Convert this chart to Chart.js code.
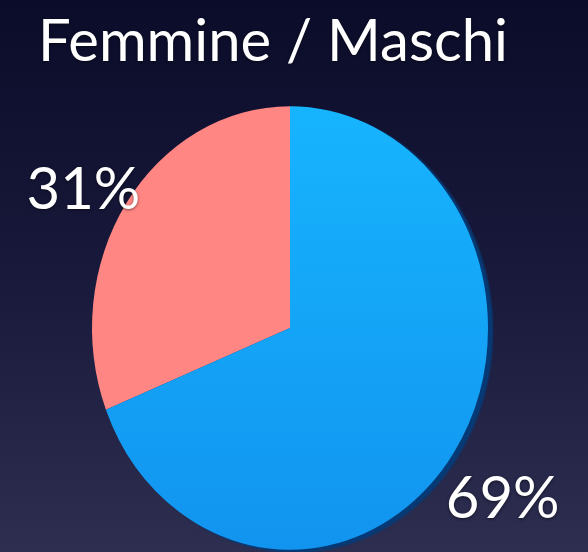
<!DOCTYPE html>
<html>
<head>
<meta charset="utf-8">
<script src="https://cdn.jsdelivr.net/npm/chart.js@4.4.1/dist/chart.umd.min.js"></script>
<style>
  html, body { margin: 0; padding: 0; }
  body {
    width: 588px; height: 552px; overflow: hidden;
    background: linear-gradient(180deg, #0b0c29 0%, #1a1b3d 55%, #2d2e50 100%);
  }
  #wrap { position: relative; width: 588px; height: 552px; }
</style>
</head>
<body>
<div id="wrap"><canvas id="chart1"></canvas></div>
<script>
const chartTitle = 'Femmine / Maschi';
const labels = ['Femmine', 'Maschi'];
const values = [31, 69];
const valueLabels = ['31%', '69%'];

const total = values.reduce((s, v) => s + v, 0);
// salmon slice ends at 12 o'clock, blue goes clockwise from there
const startAngle = values[1] / total * 360;

// pie is drawn a bit taller than wide, like the tilted original
const tiltPlugin = {
  id: 'tilt',
  beforeDatasetsDraw(chart, args, opts) {
    const arc = chart.getDatasetMeta(0).data[0];
    const ctx = chart.ctx;
    ctx.save();
    ctx.translate(arc.x, arc.y);
    ctx.scale(1, opts.scaleY);
    ctx.translate(-arc.x, -arc.y);
    ctx.shadowColor = opts.shadowColor;
    ctx.shadowOffsetX = opts.shadowX;
    ctx.shadowOffsetY = opts.shadowY;
    ctx.shadowBlur = opts.shadowBlur;
  },
  afterDatasetsDraw(chart) {
    chart.ctx.restore();
  }
};

// title and percentage labels
const textPlugin = {
  id: 'texts',
  afterDraw(chart, args, opts) {
    const ctx = chart.ctx;
    const scaleY = chart.options.plugins.tilt.scaleY;
    ctx.save();
    ctx.fillStyle = '#ffffff';
    ctx.font = opts.font;
    ctx.textAlign = 'center';
    ctx.textBaseline = 'middle';
    ctx.shadowColor = 'rgba(0,0,0,0.5)';
    ctx.shadowBlur = 3;
    ctx.shadowOffsetY = 1;
    ctx.fillText(chartTitle, opts.titleX, opts.titleY);

    chart.getDatasetMeta(0).data.forEach((arc, i) => {
      const mid = (arc.startAngle + arc.endAngle) / 2;
      const r = arc.outerRadius + opts.offsets[i];
      const x = arc.x + Math.cos(mid) * r + opts.shiftX[i];
      const y = arc.y + Math.sin(mid) * r * scaleY + opts.shiftY[i];
      ctx.fillText(valueLabels[i], x, y);
    });
    ctx.restore();
  }
};

const ctx = document.getElementById('chart1').getContext('2d');
const chart1 = new Chart(ctx, {
  type: 'pie',
  data: {
    labels: labels,
    datasets: [{
      data: values,
      backgroundColor: function (context) {
        if (context.dataIndex === 0) return '#ff8683';
        const g = context.chart.ctx.createLinearGradient(0, 110, 0, 550);
        g.addColorStop(0, '#17b6ff');
        g.addColorStop(1, '#1192ee');
        return g;
      },
      borderWidth: 0,
      clip: false
    }]
  },
  options: {
    responsive: true,
    maintainAspectRatio: false,
    animation: false,
    rotation: startAngle,
    layout: {
      padding: { left: 92, right: 100, top: 130, bottom: 26 }
    },
    plugins: {
      legend: { display: false },
      tooltip: { enabled: false },
      tilt: {
        scaleY: 1.12,
        shadowColor: 'rgba(6, 58, 118, 1)',
        shadowX: 5,
        shadowY: 3,
        shadowBlur: 2
      },
      texts: {
        font: '58px Lato',
        titleX: 273,
        titleY: 42,
        offsets: [36, 70],
        shiftX: [-13, -9],
        shiftY: [10, 3]
      }
    }
  },
  plugins: [tiltPlugin, textPlugin]
});
</script>
</body>
</html>
